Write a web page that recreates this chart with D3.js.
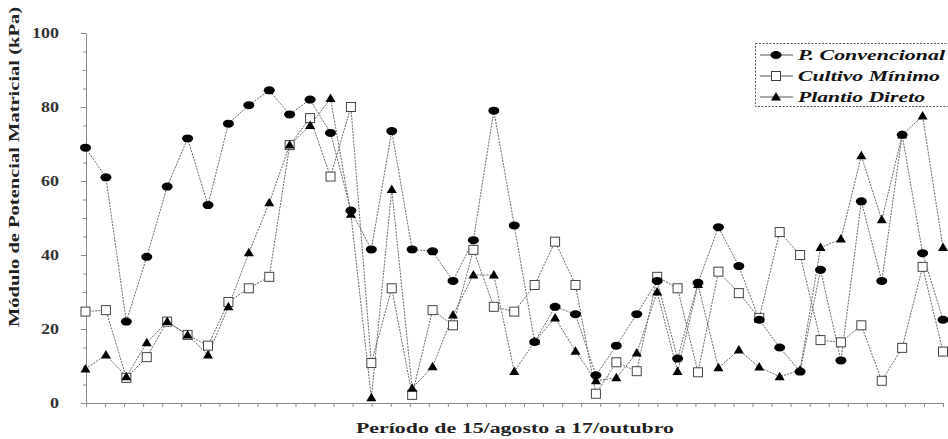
<!DOCTYPE html>
<html>
<head>
<meta charset="utf-8">
<script src="https://cdn.jsdelivr.net/npm/d3@7"></script>
<style>
  body { margin: 0; background: #fff; }
  svg { display: block; }
</style>
</head>
<body>
<svg id="chart" width="948" height="439"></svg>
<script>
// ---- data ----
const samples = [1,2,3,4,5,6,7,8,9,10,11,12,13,14,15,16,17,18,19,20,21,22,23,24,25,26,27,28,29,30,31,32,33,34,35,36,37,38,39,40,41,42,43];
const convencional = [69,61,22,39.5,58.5,71.5,53.5,75.5,80.5,84.5,78,82,73,52,41.5,73.5,41.5,41,33,44,79,48,16.5,26,24,7.5,15.5,24,33,12,32.5,47.5,37,22.5,15,8.5,36,11.5,54.5,33,72.5,40.5,22.5];
const cultivoMinimo = [24.7,25.1,6.8,12.4,22,18.4,15.5,27.3,31,34.1,69.7,77,61.2,80,10.8,31,2.2,25.1,21,41.4,26,24.7,31.9,43.6,31.9,2.5,11,8.6,34.1,31,8.3,35.5,29.7,23,46.2,40,17,16.4,21,6,14.9,36.8,13.9];
const plantioDireto = [9.2,13,7.1,16.3,22,18.4,13,26,40.6,54.1,69.7,75,82.3,51,1.4,57.7,4,9.8,23.8,34.6,34.6,8.5,16.6,23,14,6,6.8,13.5,30,8.5,32,9.5,14.3,9.7,7.1,8.9,42,44.3,66.8,49.5,72.4,77.6,42];
const seriesNames = ["P. Convencional", "Cultivo Mínimo", "Plantio Direto"];
const yTicks = [0,20,40,60,80,100];
const xTickCount = 46;
const yTitle = "Módulo de Potencial Matricial (kPa)";
const xTitle = "Período de 15/agosto a 17/outubro";

// ---- chart ----
const svg = d3.select("#chart");
const x = d3.scaleLinear().domain([1, 43]).range([85.5, 943]);
const xt = d3.scaleLinear().domain([0, xTickCount - 1]).range([86, 943]);
const y = d3.scaleLinear().domain([0, 100]).range([403, 33]);

const axisColor = "#8a8a8a";
const serif = "'Liberation Serif', 'DejaVu Serif', serif";

// y minor ticks
const gyMinor = svg.append("g").attr("transform", "translate(86,0)")
  .call(d3.axisLeft(y).tickValues(d3.range(0, 101, 5)).tickSize(3).tickFormat(""));
gyMinor.selectAll("path").remove();
gyMinor.selectAll("line").attr("stroke", axisColor);

// y axis
const gy = svg.append("g").attr("transform", "translate(86,0)")
  .call(d3.axisLeft(y).tickValues(yTicks).tickSize(5).tickSizeOuter(0).tickPadding(22));
gy.select(".domain").attr("stroke", axisColor);
gy.selectAll("line").attr("stroke", axisColor);
gy.selectAll("text")
  .attr("font-family", serif).attr("font-weight", "bold").attr("font-size", 15)
  .attr("fill", "#333")
  .each(function(d) {
    const s = String(d);
    d3.select(this).attr("textLength", 9 * s.length).attr("lengthAdjust", "spacingAndGlyphs");
  });

// x axis
const gx = svg.append("g").attr("transform", "translate(0,403)")
  .call(d3.axisBottom(xt).tickValues(d3.range(xTickCount)).tickSize(4).tickSizeOuter(0).tickFormat(""));
gx.select(".domain").attr("stroke", axisColor);
gx.selectAll("line").attr("stroke", axisColor);

// titles
svg.append("text")
  .attr("x", 515).attr("y", 433)
  .attr("text-anchor", "middle")
  .attr("font-family", serif).attr("font-weight", "bold").attr("font-size", 15)
  .attr("fill", "#222")
  .attr("textLength", 318).attr("lengthAdjust", "spacingAndGlyphs")
  .text(xTitle);

svg.append("text")
  .attr("transform", "translate(19,167) rotate(-90)")
  .attr("text-anchor", "middle")
  .attr("font-family", serif).attr("font-weight", "bold").attr("font-size", 14)
  .attr("fill", "#222")
  .attr("textLength", 320).attr("lengthAdjust", "spacingAndGlyphs")
  .text(yTitle);

// lines
const lineGen = d3.line().x((d, i) => x(samples[i])).y(d => y(d));
const allSeries = [convencional, cultivoMinimo, plantioDireto];
allSeries.forEach(s => {
  svg.append("path").datum(s)
    .attr("d", lineGen)
    .attr("fill", "none")
    .attr("stroke", "#666")
    .attr("stroke-width", 1)
    .attr("stroke-dasharray", "2,1.2");
});

// markers
function square(g, cx, cy) {
  g.append("rect").attr("x", cx - 4.5).attr("y", cy - 4.5).attr("width", 9).attr("height", 9)
    .attr("fill", "#fff").attr("stroke", "#444").attr("stroke-width", 1);
}
function triangle(g, cx, cy) {
  g.append("path").attr("d", `M${cx},${cy - 5}L${cx + 5},${cy + 3.5}L${cx - 5},${cy + 3.5}Z`)
    .attr("fill", "#000");
}
function ellipse(g, cx, cy) {
  g.append("ellipse").attr("cx", cx).attr("cy", cy).attr("rx", 5.5).attr("ry", 4)
    .attr("fill", "#000");
}
const mk = svg.append("g");
cultivoMinimo.forEach((v, i) => square(mk, x(samples[i]), y(v)));
plantioDireto.forEach((v, i) => triangle(mk, x(samples[i]), y(v)));
convencional.forEach((v, i) => ellipse(mk, x(samples[i]), y(v)));

// legend
const lg = svg.append("g");
lg.append("rect").attr("x", 755.5).attr("y", 43.5).attr("width", 200).attr("height", 63)
  .attr("fill", "#fff").attr("stroke", "#555").attr("stroke-width", 1).attr("stroke-dasharray", "2,1.5");
const markerFns = [ellipse, square, triangle];
const textLens = [147, 142, 127];
seriesNames.forEach((name, i) => {
  const cy = 55 + i * 21;
  lg.append("line").attr("x1", 760).attr("x2", 793).attr("y1", cy).attr("y2", cy)
    .attr("stroke", "#555").attr("stroke-width", 1);
  markerFns[i](lg, 776, cy);
  lg.append("text").attr("x", 798).attr("y", cy + 5)
    .attr("font-family", serif).attr("font-weight", "bold").attr("font-style", "italic")
    .attr("font-size", 14).attr("fill", "#111")
    .attr("textLength", textLens[i]).attr("lengthAdjust", "spacingAndGlyphs")
    .text(name);
});
</script>
</body>
</html>
